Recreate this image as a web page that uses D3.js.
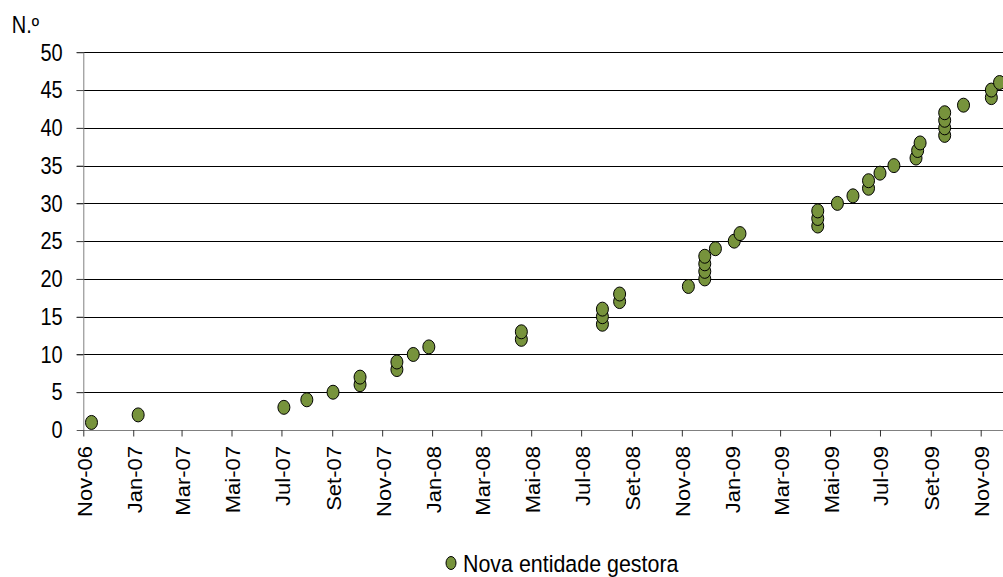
<!DOCTYPE html>
<html>
<head>
<meta charset="utf-8">
<script src="https://cdnjs.cloudflare.com/ajax/libs/d3/7.8.5/d3.min.js"></script>
<style>
  html, body { margin: 0; padding: 0; background: #fff; }
  svg { display: block; }
  text { font-family: "Liberation Sans", Arial, sans-serif; fill: #000; }
</style>
</head>
<body>
<svg id="chart" width="1003" height="577"></svg>
<script>
// Dates on which each new managing entity appeared, and the running count.
const entryDates = [
  "2006-11-11", "2007-01-07", "2007-07-04", "2007-08-01", "2007-09-02",
  "2007-10-05", "2007-10-05", "2007-11-19", "2007-11-19", "2007-12-09",
  "2007-12-28", "2008-04-19", "2008-04-19", "2008-07-27", "2008-07-27",
  "2008-07-27", "2008-08-17", "2008-08-17", "2008-11-09", "2008-11-29",
  "2008-11-29", "2008-11-29", "2008-11-29", "2008-12-12", "2009-01-04",
  "2009-01-11", "2009-04-16", "2009-04-16", "2009-04-16", "2009-05-10",
  "2009-05-29", "2009-06-17", "2009-06-17", "2009-07-01", "2009-07-18",
  "2009-08-14", "2009-08-16", "2009-08-19", "2009-09-18", "2009-09-18",
  "2009-09-18", "2009-09-18", "2009-10-11", "2009-11-14", "2009-11-14",
  "2009-11-24"
];
const entityCount = [
  1, 2, 3, 4, 5, 6, 7, 8, 9, 10,
  11, 12, 13, 14, 15, 16, 17, 18, 19, 20,
  21, 22, 23, 24, 25, 26, 27, 28, 29, 30,
  31, 32, 33, 34, 35, 36, 37, 38, 39, 40,
  41, 42, 43, 44, 45, 46
];

// Axis ticks
const yTicks = [0, 5, 10, 15, 20, 25, 30, 35, 40, 45, 50];
const monthNames = ["Jan", "Fev", "Mar", "Abr", "Mai", "Jun",
                    "Jul", "Ago", "Set", "Out", "Nov", "Dez"];
const xTickStart = "2006-11-01";
const xTickEnd = "2009-11-01";

const yLabel = "N.º";
const seriesName = "Nova entidade gestora";

const parse = d3.timeParse("%Y-%m-%d");
const points = entryDates.map((d, i) => ({ date: parse(d), value: entityCount[i] }));

const svg = d3.select("#chart");
const W = 1003;
const plotLeft = 83.3, plotTop = 52.3, plotBottom = 430;

const x = d3.scaleTime()
  .domain([parse(xTickStart), parse(xTickEnd)])
  .range([plotLeft, 980.7]);
const y = d3.scaleLinear().domain([0, 50]).range([plotBottom, plotTop]);

const xTickDates = d3.timeMonth.every(2).range(parse(xTickStart), d3.timeDay.offset(parse(xTickEnd), 1));
const fmt = d => monthNames[d.getMonth()] + "-" + d3.timeFormat("%y")(d);

// Horizontal gridlines
svg.append("g")
  .selectAll("line")
  .data(yTicks.filter(v => v > 0))
  .join("line")
  .attr("x1", plotLeft - 6.6).attr("x2", W)
  .attr("y1", d => Math.round(y(d)) + 0.5).attr("y2", d => Math.round(y(d)) + 0.5)
  .attr("stroke", "#000").attr("stroke-width", 1);

// Y axis
const yAxis = svg.append("g").attr("transform", `translate(${plotLeft},0)`)
  .call(d3.axisLeft(y).tickValues(yTicks).tickSize(6.6).tickFormat(""));
yAxis.select(".domain").attr("stroke", "#808080").attr("d", `M0.5,${plotTop}V${plotBottom}`);
yAxis.selectAll(".tick line").attr("stroke", "#555");

// Y tick labels
svg.append("g")
  .selectAll("text")
  .data(yTicks)
  .join("text")
  .attr("text-anchor", "end")
  .attr("font-size", 20)
  .attr("transform", d => `translate(62.7,${y(d) + 8.2}) scale(1,1.15)`)
  .text(d => d);

// X axis
const xAxis = svg.append("g").attr("transform", `translate(0,${plotBottom})`)
  .call(d3.axisBottom(x).tickValues(xTickDates).tickSize(6.5).tickFormat(""));
xAxis.select(".domain").attr("stroke", "#808080").attr("d", `M${plotLeft},0.5H${W}`);
xAxis.selectAll(".tick line").attr("stroke", "#333");

// X tick labels, rotated
svg.append("g")
  .selectAll("text")
  .data(xTickDates)
  .join("text")
  .attr("text-anchor", "end")
  .attr("font-size", 20)
  .attr("transform", d => `translate(${x(d) + 8.5},446) rotate(-90) scale(1.1,1)`)
  .text(fmt);

// Axis title
svg.append("text")
  .attr("font-size", 20)
  .attr("transform", "translate(11.7,33.3) scale(1,1.15)")
  .text(yLabel);

// Data points
svg.append("g")
  .selectAll("ellipse")
  .data(points)
  .join("ellipse")
  .attr("cx", d => x(d.date))
  .attr("cy", d => y(d.value))
  .attr("rx", 6)
  .attr("ry", 7)
  .attr("fill", "#77933C")
  .attr("stroke", "#000")
  .attr("stroke-width", 1);

// Legend
const legend = svg.append("g");
legend.append("ellipse")
  .attr("cx", 451).attr("cy", 563).attr("rx", 5).attr("ry", 6.5)
  .attr("fill", "#77933C").attr("stroke", "#000").attr("stroke-width", 1);
legend.append("text")
  .attr("font-size", 21)
  .attr("transform", "translate(463,571.5) scale(1.02,1.15)")
  .text(seriesName);
</script>
</body>
</html>
